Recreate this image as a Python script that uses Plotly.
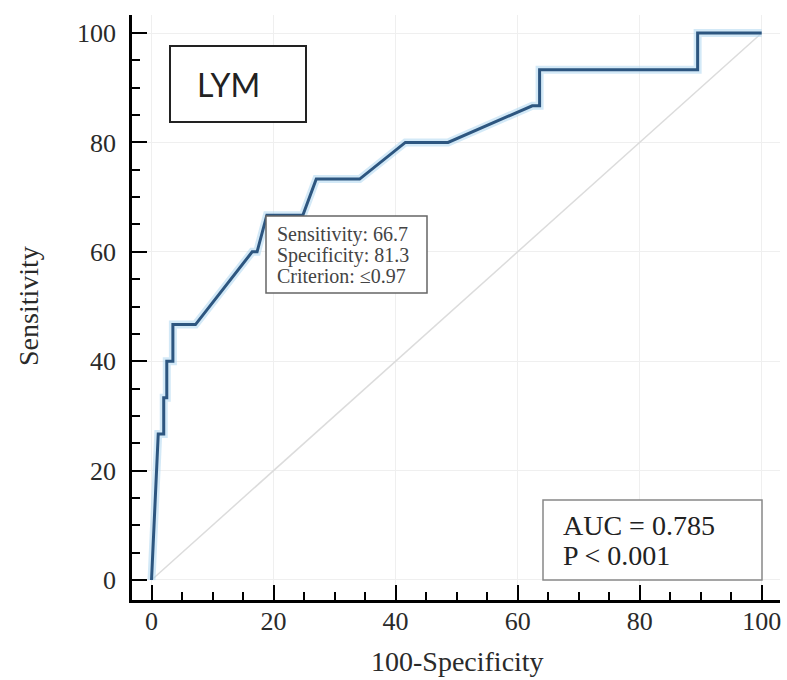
import plotly.graph_objects as go

# ROC curve points (100-Specificity, Sensitivity)
fpr = [0, 1.1, 2.0, 2.0, 2.5, 2.5, 3.5, 3.5, 7.2, 16.5, 17.3, 18.9, 24.8, 27.0,
       34.1, 41.6, 48.6, 62.4, 63.6, 63.6, 89.5, 89.5, 100]
sens = [0, 26.7, 26.7, 33.3, 33.3, 40, 40, 46.7, 46.7, 60, 60, 66.7, 66.7, 73.3,
        73.3, 80, 80, 86.7, 86.7, 93.3, 93.3, 100, 100]
diag = [0, 100]
tick_vals = [0, 20, 40, 60, 80, 100]
x_title = "100-Specificity"
y_title = "Sensitivity"
label_name = "LYM"
cut_lines = ["Sensitivity: 66.7", "Specificity: 81.3", "Criterion: \u22640.97"]
stat_lines = ["AUC = 0.785", "P < 0.001"]

W, H = 787, 680
ML, MR, MT, MB = 132, 7, 15, 80
PW, PH = W - ML - MR, H - MT - MB

def px(x):
    return (x - ML) / PW

def py(y):
    return (H - MB - y) / PH

fig = go.Figure()
fig.add_trace(go.Scatter(x=diag, y=diag, mode="lines",
                         line=dict(color="#dcdcdc", width=1.5), hoverinfo="skip"))
fig.add_trace(go.Scatter(x=fpr, y=sens, mode="lines",
                         line=dict(color="rgba(175,215,240,0.55)", width=8), hoverinfo="skip"))
fig.add_trace(go.Scatter(x=fpr, y=sens, mode="lines",
                         line=dict(color="#2d5680", width=3)))

serif = "Liberation Serif"
axis_common = dict(
    showline=True, linecolor="black", linewidth=2.5,
    ticks="inside", ticklen=15, tickwidth=2, tickcolor="black",
    tickvals=tick_vals, showgrid=True, gridcolor="#efefef", gridwidth=1,
    zeroline=False,
    tickfont=dict(family=serif, size=26, color="#2a2a2a"),
    minor=dict(dtick=5, ticks="inside", ticklen=8, tickwidth=1.5, tickcolor="black", showgrid=False),
)
fig.update_layout(
    width=W, height=H, margin=dict(l=ML, r=MR, t=MT, b=MB),
    paper_bgcolor="white", plot_bgcolor="white", showlegend=False,
    xaxis=dict(range=[-3.2, 103.0], ticklabelstandoff=-4, **axis_common),
    yaxis=dict(range=[-3.66, 103.3], ticklabelstandoff=8, **axis_common),
)

shapes = [
    dict(type="rect", xref="paper", yref="paper", x0=px(170), x1=px(306), y0=py(122), y1=py(46),
         line=dict(color="#222", width=2), fillcolor="white", layer="above"),
    dict(type="rect", xref="paper", yref="paper", x0=px(266), x1=px(427), y0=py(293), y1=py(216),
         line=dict(color="#666", width=1.5), fillcolor="white", layer="above"),
    dict(type="rect", xref="paper", yref="paper", x0=px(543), x1=px(762), y0=py(580), y1=py(500),
         line=dict(color="#888", width=1.5), fillcolor="white", layer="above"),
]
fig.update_layout(shapes=shapes)

anns = [
    dict(text=x_title, xref="paper", yref="paper", x=px(457), y=py(661),
         xanchor="center", yanchor="middle", showarrow=False,
         font=dict(family=serif, size=28, color="#2a2a2a")),
    dict(text=y_title, xref="paper", yref="paper", x=px(28), y=py(306),
         xanchor="center", yanchor="middle", showarrow=False, textangle=-90,
         font=dict(family=serif, size=28, color="#2a2a2a")),
    dict(text=label_name, xref="paper", yref="paper", x=px(228), y=py(84),
         xanchor="center", yanchor="middle", showarrow=False,
         font=dict(family="Lato", size=32, color="#222")),
]
for i, t in enumerate(cut_lines):
    anns.append(dict(text=t, xref="paper", yref="paper", x=px(275), y=py(234 + 21 * i),
                     xanchor="left", yanchor="middle", showarrow=False,
                     font=dict(family=serif, size=20, color="#444")))
for i, t in enumerate(stat_lines):
    anns.append(dict(text=t, xref="paper", yref="paper", x=px(561), y=py(525 + 30 * i),
                     xanchor="left", yanchor="middle", showarrow=False,
                     font=dict(family=serif, size=28, color="#222")))
fig.update_layout(annotations=anns)

fig.write_html("out.html")
